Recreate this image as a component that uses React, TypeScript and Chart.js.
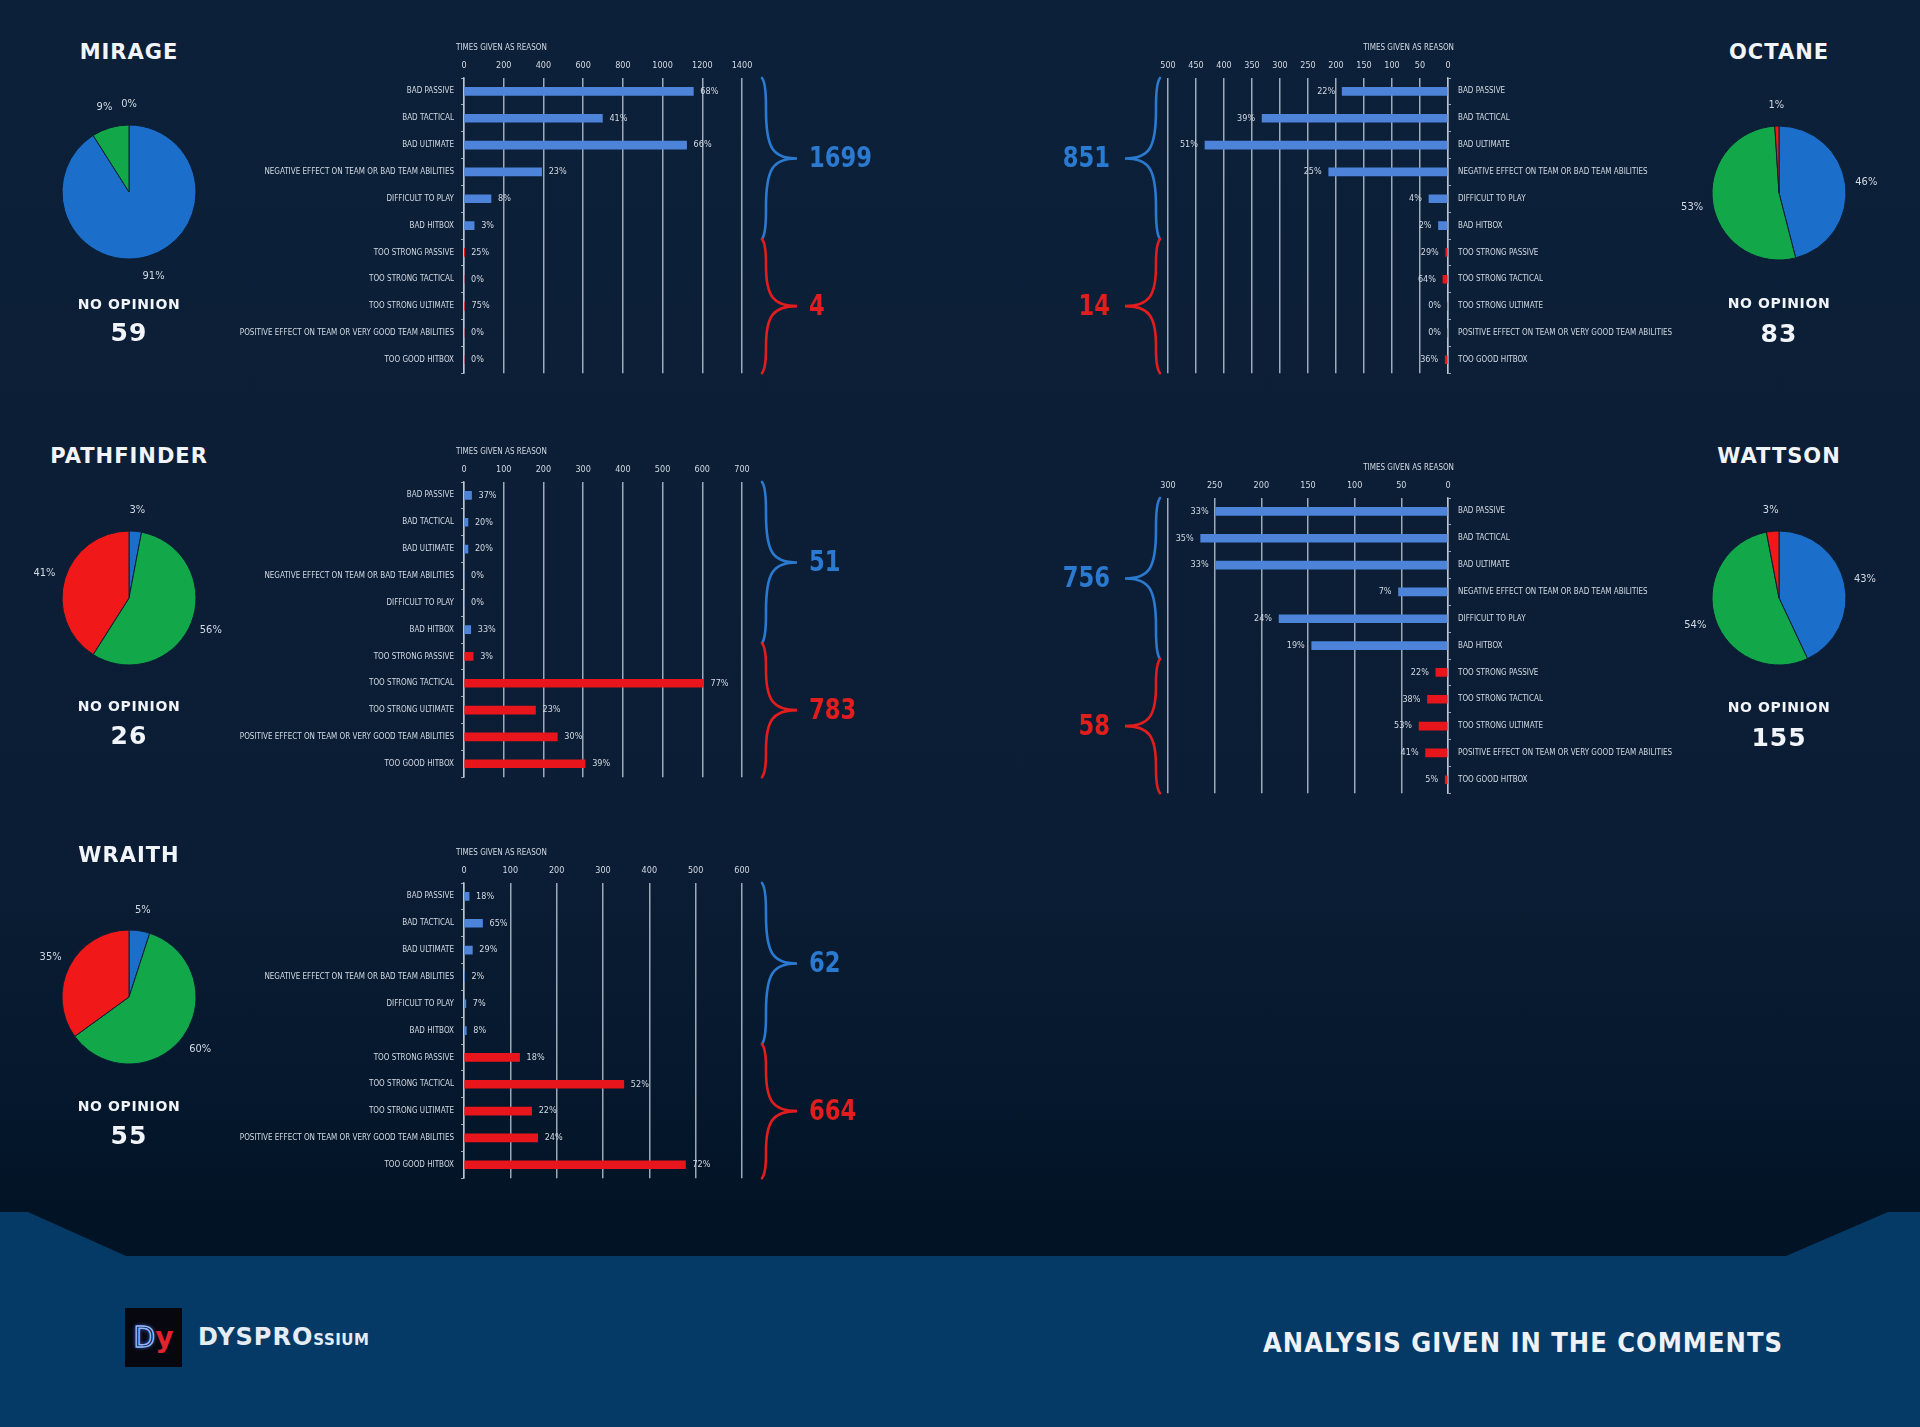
import React, { useEffect, useRef } from "react";
import { Chart, registerables } from "chart.js";

Chart.register(...registerables);

// ---------- DATA ----------
const CATEGORIES = [
  "BAD PASSIVE",
  "BAD TACTICAL",
  "BAD ULTIMATE",
  "NEGATIVE EFFECT ON TEAM OR BAD TEAM ABILITIES",
  "DIFFICULT TO PLAY",
  "BAD HITBOX",
  "TOO STRONG PASSIVE",
  "TOO STRONG TACTICAL",
  "TOO STRONG ULTIMATE",
  "POSITIVE EFFECT ON TEAM OR VERY GOOD TEAM ABILITIES",
  "TOO GOOD HITBOX",
];

const AXIS_TITLE = "TIMES GIVEN AS REASON";
const NO_OPINION_LABEL = "NO OPINION";

const MIRAGE_COUNTS = [1155, 697, 1121, 391, 136, 51, 1, 0, 3, 0, 0];
const MIRAGE_PCTS = ["68%", "41%", "66%", "23%", "8%", "3%", "25%", "0%", "75%", "0%", "0%"];
const MIRAGE_TOTALS = [1699, 4];
const MIRAGE_PIE = [91, 9, 0];
const MIRAGE_NO_OPINION = 59;

const OCTANE_COUNTS = [189, 332, 434, 213, 34, 17, 4, 9, 0, 0, 5];
const OCTANE_PCTS = ["22%", "39%", "51%", "25%", "4%", "2%", "29%", "64%", "0%", "0%", "36%"];
const OCTANE_TOTALS = [851, 14];
const OCTANE_PIE = [46, 53, 1];
const OCTANE_NO_OPINION = 83;

const PATHFINDER_COUNTS = [19, 10, 10, 0, 0, 17, 23, 603, 180, 235, 305];
const PATHFINDER_PCTS = ["37%", "20%", "20%", "0%", "0%", "33%", "3%", "77%", "23%", "30%", "39%"];
const PATHFINDER_TOTALS = [51, 783];
const PATHFINDER_PIE = [3, 56, 41];
const PATHFINDER_NO_OPINION = 26;

const WATTSON_COUNTS = [249, 265, 249, 53, 181, 146, 13, 22, 31, 24, 3];
const WATTSON_PCTS = ["33%", "35%", "33%", "7%", "24%", "19%", "22%", "38%", "53%", "41%", "5%"];
const WATTSON_TOTALS = [756, 58];
const WATTSON_PIE = [43, 54, 3];
const WATTSON_NO_OPINION = 155;

const WRAITH_COUNTS = [11, 40, 18, 1, 4, 5, 120, 345, 146, 159, 478];
const WRAITH_PCTS = ["18%", "65%", "29%", "2%", "7%", "8%", "18%", "52%", "22%", "24%", "72%"];
const WRAITH_TOTALS = [62, 664];
const WRAITH_PIE = [5, 60, 35];
const WRAITH_NO_OPINION = 55;

const AXIS_MAX = { mirage: 1400, octane: 500, pathfinder: 700, wattson: 300, wraith: 600 };
const AXIS_STEP = { mirage: 200, octane: 50, pathfinder: 100, wattson: 50, wraith: 100 };

// ---------- STYLE ----------
const NARROW = "'Liberation Sans Narrow', 'DejaVu Sans Condensed', 'Liberation Sans', sans-serif";
const HEAD = "'DejaVu Sans', 'Liberation Sans', sans-serif";
const BAR_BLUE = "#4d83d9";
const BAR_RED = "#e8161c";
const PIE_BLUE = "#1b6fcb";
const PIE_GREEN = "#12a84a";
const PIE_RED = "#f01818";
const BRACE_BLUE = "#2b7ad0";
const BRACE_RED = "#e21d1d";
const GRID = "rgba(195,205,218,0.8)";
const SMALL_TEXT = "#d3d9e2";
const BG = "#0b1e35";

function drawBrace(ctx: CanvasRenderingContext2D, x0: number, x1: number, top: number, bottom: number, color: string) {
  const dir = x1 > x0 ? 1 : -1;
  const mid = (top + bottom) / 2;
  const h = bottom - top;
  ctx.beginPath();
  ctx.strokeStyle = color;
  ctx.lineWidth = 2.6;
  ctx.lineCap = "round";
  ctx.moveTo(x0 - 4 * dir, top);
  ctx.quadraticCurveTo(x0, top + 5, x0, top + h * 0.18);
  ctx.lineTo(x0, mid - h * 0.3);
  ctx.bezierCurveTo(x0, mid - 10, x1 - 24 * dir, mid, x1, mid);
  ctx.bezierCurveTo(x1 - 24 * dir, mid, x0, mid + 10, x0, mid + h * 0.3);
  ctx.lineTo(x0, bottom - h * 0.18);
  ctx.quadraticCurveTo(x0, bottom - 5, x0 - 4 * dir, bottom);
  ctx.stroke();
}

function drawNarrowText(ctx: CanvasRenderingContext2D, text: string, x: number, y: number, align: "left" | "right", squeeze: number) {
  ctx.save();
  ctx.translate(x, y);
  ctx.scale(squeeze, 1);
  ctx.textAlign = align;
  ctx.fillText(text, 0, 0);
  ctx.restore();
}

type BarProps = {
  left: number;
  top: number;
  mirror: boolean;
  counts: number[];
  pcts: string[];
  max: number;
  step: number;
  totals: number[];
};

function BarPanel({ left, top, mirror, counts, pcts, max, step, totals }: BarProps) {
  const ref = useRef<HTMLCanvasElement>(null);
  const W = 720;
  const H = 350;
  useEffect(() => {
    const deco = {
      id: "deco",
      afterDatasetsDraw(chart: any) {
        const ctx: CanvasRenderingContext2D = chart.ctx;
        const area = chart.chartArea;
        const meta = chart.getDatasetMeta(0);
        ctx.save();
        ctx.fillStyle = SMALL_TEXT;
        ctx.textBaseline = "middle";
        ctx.font = `9px ${NARROW}`;
        meta.data.forEach((bar: any, i: number) => {
          const p = bar.getProps(["x", "y"], true);
          if (mirror) {
            ctx.textAlign = "right";
            ctx.fillText(pcts[i], p.x - 7, p.y);
          } else {
            ctx.textAlign = "left";
            ctx.fillText(pcts[i], p.x + 7, p.y);
          }
        });
        ctx.font = `8px ${NARROW}`;
        ctx.textAlign = mirror ? "right" : "left";
        ctx.fillText(AXIS_TITLE, mirror ? area.right + 6 : area.left - 8, area.top - 30);

        const ys = chart.scales.y;
        const boundary = (ys.getPixelForValue(5) + ys.getPixelForValue(6)) / 2;
        const x0 = mirror ? area.left - 12 : area.right + 24;
        const x1 = mirror ? x0 - 31 : x0 + 31;
        drawBrace(ctx, x0, x1, area.top, boundary, BRACE_BLUE);
        drawBrace(ctx, x0, x1, boundary, area.bottom, BRACE_RED);
        ctx.font = `bold 29px ${HEAD}`;
        const nx = mirror ? x0 - 46 : x0 + 43;
        const align = mirror ? "right" : "left";
        ctx.fillStyle = BRACE_BLUE;
        drawNarrowText(ctx, String(totals[0]), nx, (area.top + boundary) / 2 + 1, align, 0.78);
        ctx.fillStyle = BRACE_RED;
        drawNarrowText(ctx, String(totals[1]), nx, (boundary + area.bottom) / 2 + 1, align, 0.78);
        ctx.restore();
      },
    };
    const chart = new Chart(ref.current as HTMLCanvasElement, {
      type: "bar",
      data: {
        labels: CATEGORIES,
        datasets: [
          {
            data: counts,
            backgroundColor: counts.map((_, i) => (i < 6 ? BAR_BLUE : BAR_RED)),
            barThickness: 8,
            borderWidth: 0,
          },
        ],
      },
      options: {
        indexAxis: "y",
        responsive: false,
        maintainAspectRatio: false,
        animation: false,
        devicePixelRatio: 1,
        layout: {
          padding: mirror
            ? { left: 128, right: 0, top: 0, bottom: 2 }
            : { left: 0, right: W - 542, top: 0, bottom: 2 },
        },
        plugins: { legend: { display: false }, tooltip: { enabled: false } },
        scales: {
          x: {
            position: "top",
            min: 0,
            max,
            reverse: mirror,
            ticks: {
              stepSize: step,
              color: SMALL_TEXT,
              font: { size: 9, family: NARROW },
              padding: 7,
              maxRotation: 0,
              autoSkip: false,
              callback: (v: any) => String(v),
            },
            grid: { color: GRID, lineWidth: 1.5, drawTicks: false },
            border: { display: false },
            afterFit: (s: any) => {
              s.height = 43;
            },
          },
          y: {
            position: mirror ? "right" : "left",
            ticks: {
              color: SMALL_TEXT,
              font: { size: 8, family: NARROW },
              padding: 7,
              autoSkip: false,
            },
            grid: { drawOnChartArea: false, drawTicks: true, tickLength: 3, color: GRID, lineWidth: 1 },
            border: { display: true, color: GRID, width: 1.5 },
            afterFit: (s: any) => {
              s.width = mirror ? W - 128 - 280 : 264;
            },
          },
        },
      } as any,
      plugins: [deco],
    });
    return () => chart.destroy();
  }, []);
  return (
    <canvas
      ref={ref}
      width={W}
      height={H}
      style={{ position: "absolute", left, top, width: W, height: H }}
    />
  );
}

type PieProps = { cx: number; cy: number; values: number[] };

function PiePanel({ cx, cy, values }: PieProps) {
  const ref = useRef<HTMLCanvasElement>(null);
  const S = 240;
  useEffect(() => {
    const labels = {
      id: "pielabels",
      afterDatasetsDraw(chart: any) {
        const ctx: CanvasRenderingContext2D = chart.ctx;
        const meta = chart.getDatasetMeta(0);
        ctx.save();
        ctx.fillStyle = SMALL_TEXT;
        ctx.font = `11px ${NARROW}`;
        ctx.textAlign = "center";
        ctx.textBaseline = "middle";
        meta.data.forEach((arc: any, i: number) => {
          const p = arc.getProps(["x", "y", "startAngle", "endAngle", "outerRadius"], true);
          const a = (p.startAngle + p.endAngle) / 2;
          const d = p.outerRadius + 21;
          ctx.fillText(`${values[i]}%`, p.x + Math.cos(a) * d, p.y + Math.sin(a) * d);
        });
        ctx.restore();
      },
    };
    const chart = new Chart(ref.current as HTMLCanvasElement, {
      type: "pie",
      data: {
        labels: ["BLUE", "GREEN", "RED"],
        datasets: [
          {
            data: values,
            backgroundColor: [PIE_BLUE, PIE_GREEN, PIE_RED],
            borderColor: BG,
            borderWidth: 1,
            radius: 67,
          } as any,
        ],
      },
      options: {
        responsive: false,
        maintainAspectRatio: false,
        animation: false,
        devicePixelRatio: 1,
        plugins: { legend: { display: false }, tooltip: { enabled: false } },
      } as any,
      plugins: [labels],
    });
    return () => chart.destroy();
  }, []);
  return (
    <canvas
      ref={ref}
      width={S}
      height={S}
      style={{ position: "absolute", left: cx - S / 2, top: cy - S / 2, width: S, height: S }}
    />
  );
}

function CenterText({ x, y, text, size, weight = "bold", spacing = 0, color = "#f1f4f8", family = HEAD }: any) {
  return (
    <div
      style={{
        position: "absolute",
        left: x,
        top: y,
        transform: "translate(-50%, -50%)",
        whiteSpace: "nowrap",
        fontFamily: family,
        fontWeight: weight,
        fontSize: size,
        letterSpacing: spacing,
        color,
        lineHeight: 1,
      }}
    >
      {text}
    </div>
  );
}

function HeroBlock({ x, name, titleY, pieY, noY, numY, pie, noOpinion }: any) {
  return (
    <>
      <CenterText x={x} y={titleY} text={name} size={21} spacing={1} />
      <PiePanel cx={x} cy={pieY} values={pie} />
      <CenterText x={x} y={noY} text={NO_OPINION_LABEL} size={14} spacing={0.6} />
      <CenterText x={x} y={numY} text={String(noOpinion)} size={25} spacing={1} />
    </>
  );
}

export default function App() {
  useEffect(() => {
    document.body.style.margin = "0";
    document.body.style.overflow = "hidden";
  }, []);
  return (
    <div
      style={{
        position: "absolute",
        left: 0,
        top: 0,
        width: 1920,
        height: 1427,
        overflow: "hidden",
        background: "linear-gradient(180deg, #0c2039 0px, #0b1d34 880px, #05182d 1080px, #021325 1210px)",
      }}
    >
      <svg width={1920} height={1427} style={{ position: "absolute", left: 0, top: 0 }}>
        <polygon points="0,1212 28,1212 126,1256 1786,1256 1888,1212 1920,1212 1920,1427 0,1427" fill="#063a66" />
      </svg>

      <HeroBlock x={129} name="MIRAGE" titleY={52} pieY={192} noY={304} numY={332} pie={MIRAGE_PIE} noOpinion={MIRAGE_NO_OPINION} />
      <HeroBlock x={129} name="PATHFINDER" titleY={456} pieY={598} noY={706} numY={735} pie={PATHFINDER_PIE} noOpinion={PATHFINDER_NO_OPINION} />
      <HeroBlock x={129} name="WRAITH" titleY={855} pieY={997} noY={1106} numY={1135} pie={WRAITH_PIE} noOpinion={WRAITH_NO_OPINION} />
      <HeroBlock x={1779} name="OCTANE" titleY={52} pieY={193} noY={303} numY={333} pie={OCTANE_PIE} noOpinion={OCTANE_NO_OPINION} />
      <HeroBlock x={1779} name="WATTSON" titleY={456} pieY={598} noY={707} numY={737} pie={WATTSON_PIE} noOpinion={WATTSON_NO_OPINION} />

      <BarPanel left={200} top={35} mirror={false} counts={MIRAGE_COUNTS} pcts={MIRAGE_PCTS} max={AXIS_MAX.mirage} step={AXIS_STEP.mirage} totals={MIRAGE_TOTALS} />
      <BarPanel left={200} top={439} mirror={false} counts={PATHFINDER_COUNTS} pcts={PATHFINDER_PCTS} max={AXIS_MAX.pathfinder} step={AXIS_STEP.pathfinder} totals={PATHFINDER_TOTALS} />
      <BarPanel left={200} top={840} mirror={false} counts={WRAITH_COUNTS} pcts={WRAITH_PCTS} max={AXIS_MAX.wraith} step={AXIS_STEP.wraith} totals={WRAITH_TOTALS} />
      <BarPanel left={1040} top={35} mirror={true} counts={OCTANE_COUNTS} pcts={OCTANE_PCTS} max={AXIS_MAX.octane} step={AXIS_STEP.octane} totals={OCTANE_TOTALS} />
      <BarPanel left={1040} top={455} mirror={true} counts={WATTSON_COUNTS} pcts={WATTSON_PCTS} max={AXIS_MAX.wattson} step={AXIS_STEP.wattson} totals={WATTSON_TOTALS} />

      {/* footer logo */}
      <div
        style={{
          position: "absolute",
          left: 125,
          top: 1308,
          width: 57,
          height: 59,
          background: "#07070f",
          display: "flex",
          alignItems: "center",
          justifyContent: "center",
          fontFamily: HEAD,
          fontSize: 28,
          lineHeight: 1,
        }}
      >
        <span style={{ color: "#0b1530", WebkitTextStroke: "1.5px #8fb8ff", textShadow: "0 0 4px #4b7fff" }}>D</span>
        <span style={{ color: "#e3222e", fontWeight: "bold" }}>y</span>
      </div>
      <div
        style={{
          position: "absolute",
          left: 198,
          top: 1337,
          transform: "translateY(-50%)",
          whiteSpace: "nowrap",
          fontFamily: HEAD,
          fontWeight: "bold",
          color: "#e4ecf6",
          lineHeight: 1,
        }}
      >
        <span style={{ fontSize: 24, letterSpacing: 1 }}>DYSPRO</span>
        <span style={{ fontSize: 15, letterSpacing: 0.5 }}>SSIUM</span>
      </div>
      <div
        style={{
          position: "absolute",
          right: 1920 - 1783,
          top: 1342,
          transform: "translateY(-50%)",
          whiteSpace: "nowrap",
          fontFamily: "'DejaVu Sans Condensed', " + HEAD,
          fontWeight: "bold",
          fontSize: 27,
          letterSpacing: 1,
          color: "#eef2f7",
          lineHeight: 1,
        }}
      >
        ANALYSIS GIVEN IN THE COMMENTS
      </div>
    </div>
  );
}
